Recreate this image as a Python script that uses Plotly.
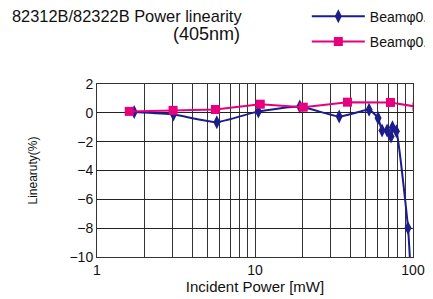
import plotly.graph_objects as go

# Beam φ0.1 (blue)
blue_x = [1.72, 3.05, 5.73, 10.5, 19.2, 34.1, 52.7, 60.1, 63.7, 68.5, 72.6, 74.1, 78.5, 93.0, 96.6]
blue_y = [0.05, -0.12, -0.65, 0.1, 0.44, -0.26, 0.21, -0.35, -1.23, -1.23, -1.65, -1.0, -1.28, -7.98, -11.0]
# Beam φ0.7 (pink)
pink_x = [1.6, 3.03, 5.61, 10.8, 20.2, 38.5, 72.0, 106.0]
pink_y = [0.1, 0.17, 0.23, 0.6, 0.39, 0.74, 0.72, 0.42]

names = ["Beamφ0.1mm", "Beamφ0.7mm"]
x_tickvals = [1, 2, 3, 4, 5, 6, 7, 8, 9, 10, 20, 30, 40, 50, 60, 70, 80, 90, 100]
x_ticktext = ["1", "", "", "", "", "", "", "", "", "10", "", "", "", "", "", "", "", "", "100"]
y_tickvals = [2, 0, -2, -4, -6, -8, -10]

font_family = "Liberation Sans, Arial, sans-serif"

fig = go.Figure()
fig.add_trace(go.Scatter(
    x=blue_x, y=blue_y, name=names[0], mode="lines+markers", legendgroup="a",
    line=dict(color="#1c1c8c", width=2, shape="spline", smoothing=0.4),
    marker=dict(symbol="diamond-tall", size=10, color="#1c1c8c"),
))
fig.add_trace(go.Scatter(
    x=pink_x, y=pink_y, name=names[1], mode="lines+markers", legendgroup="b",
    line=dict(color="#e6007e", width=2),
    marker=dict(symbol="square", size=9, color="#e6007e"),
))

fig.update_layout(
    width=441, height=307,
    margin=dict(l=89, r=36, t=76, b=58, autoexpand=False),
    paper_bgcolor="white", plot_bgcolor="white",
    font=dict(family=font_family, size=14, color="#111"),
    showlegend=True,
    legend=dict(x=0.664, y=1.482, xanchor="left", yanchor="top",
                font=dict(size=14, color="#111"), bgcolor="rgba(0,0,0,0)",
                tracegroupgap=4, itemwidth=53),
)
fig.update_xaxes(
    type="log", range=[0, 2], tickvals=x_tickvals, ticktext=x_ticktext,
    showgrid=True, gridcolor="#333", gridwidth=1,
    showline=True, linecolor="#333", linewidth=1, mirror=True,
    ticks="", tickfont=dict(size=14),
    title=dict(text="Incident Power [mW]", font=dict(size=15), standoff=2),
)
fig.update_yaxes(
    range=[-10, 2], tickvals=y_tickvals,
    showgrid=True, gridcolor="#222", gridwidth=1, zeroline=False,
    showline=True, linecolor="#333", linewidth=1, mirror=True,
    ticks="", tickfont=dict(size=14),
    title=dict(text="Linearuty(%)", font=dict(size=12), standoff=29),
)
fig.add_annotation(text="82312B/82322B Power linearity", xref="paper", yref="paper",
                   x=-0.276, y=1.455, xanchor="left", yanchor="top", showarrow=False,
                   font=dict(size=16.4, color="#111"))
fig.add_annotation(text="(405nm)", xref="paper", yref="paper",
                   x=0.345, y=1.36, xanchor="center", yanchor="top", showarrow=False,
                   font=dict(size=18, color="#111"))
fig.write_html("out.html")
